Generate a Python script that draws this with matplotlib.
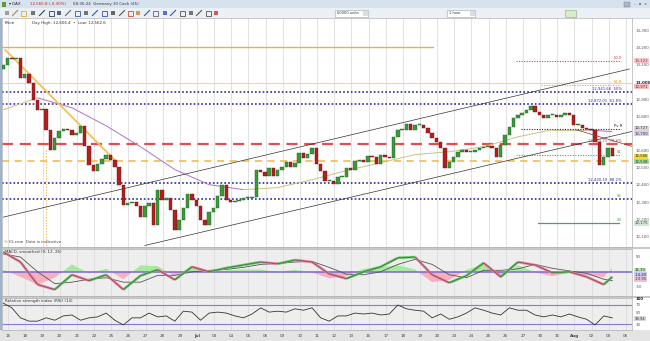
import matplotlib
matplotlib.use("Agg")
import matplotlib.pyplot as plt
import numpy as np
from matplotlib.patches import Rectangle
from matplotlib.collections import LineCollection

plt.rcParams['font.family'] = ['DejaVu Sans']

# ---------------- data ----------------
closes = [13099, 13140, 13134, 13140, 13023, 13047, 12994, 12895, 12837, 12843,
          12721, 12605, 12675, 12715, 12727, 12721, 12692, 12704, 12744, 12628,
          12518, 12483, 12524, 12553, 12576, 12547, 12506, 12401, 12285, 12297,
          12303, 12274, 12215, 12279, 12297, 12169, 12372, 12314, 12326, 12256,
          12140, 12198, 12268, 12349, 12314, 12279, 12198, 12169, 12244, 12268,
          12337, 12401, 12314, 12303, 12308, 12314, 12326, 12326, 12332, 12489,
          12477, 12454, 12500, 12454, 12489, 12506, 12535, 12506, 12529, 12587,
          12558, 12582, 12616, 12524, 12483, 12425, 12425, 12407, 12448, 12448,
          12500, 12489, 12541, 12547, 12535, 12570, 12564, 12524, 12576, 12564,
          12558, 12680, 12721, 12721, 12756, 12721, 12750, 12750, 12733, 12704,
          12675, 12651, 12616, 12500, 12535, 12564, 12593, 12605, 12593, 12593,
          12605, 12616, 12622, 12628, 12616, 12564, 12634, 12692, 12739, 12791,
          12808, 12820, 12837, 12861, 12826, 12808, 12791, 12808, 12808, 12797,
          12808, 12820, 12808, 12750, 12750, 12733, 12727, 12721, 12651, 12518,
          12564, 12616, 12566]

day_labels = ["15", "18", "19", "20", "21", "22", "25", "26", "27", "28", "29",
              "Jul", "03", "04", "05", "06", "09", "10", "11", "12", "13",
              "16", "17", "18", "19", "20", "23", "24", "25", "26", "27",
              "30", "31", "Aug", "02", "03", "06"]

ma_idx = [0, 8, 16, 24, 32, 40, 48, 56, 64, 72, 80, 88, 96, 104, 112, 120, 128, 136, 142]
ma_values = [12837, 12907, 12849, 12744, 12622, 12489, 12401, 12372, 12384, 12430,
             12483, 12529, 12576, 12593, 12622, 12680, 12721, 12721, 12710]

macd_idx = [0, 4, 8, 12, 16, 20, 24, 28, 32, 36, 40, 44, 48, 52, 56, 60, 64, 68,
            72, 76, 80, 84, 88, 92, 96, 100, 104, 108, 112, 116, 120, 124, 128,
            132, 136, 140, 142]
macd_values = [67, 33, -43, -60, -10, -30, -10, -60, -13, 7, -27, 17, 0, 13, 23,
               33, 27, 40, 33, -7, -23, 0, 17, 47, 50, -10, -37, -13, 30, -17,
               33, 23, -3, 0, -17, -43, -17]
signal_values = [60, 50, 0, -40, -35, -25, -20, -35, -35, -12, -12, 0, 5, 8, 15,
                 25, 28, 33, 35, 15, -8, -10, 0, 25, 42, 25, -10, -20, 5, 5, 10,
                 25, 12, 3, -5, -25, -30]

rsi_values = [74, 64, 43, 36, 36, 43, 38, 47, 49, 38, 43, 45, 53, 38, 28, 43, 43,
              53, 45, 47, 36, 57, 55, 38, 53, 55, 53, 47, 43, 51, 64, 55, 57, 55,
              62, 59, 64, 43, 36, 47, 47, 53, 51, 53, 49, 51, 70, 62, 59, 57, 43,
              51, 40, 45, 53, 64, 59, 53, 49, 64, 59, 59, 49, 45, 49, 45, 51, 45,
              40, 28, 47, 43]

price_ticks = [13300, 13200, 13100, 13000, 12900, 12800, 12600, 12500,
               12400, 12300, 12200, 12100]

# ---------------- layout helpers ----------------
W, H = 650, 341
fig = plt.figure(figsize=(W / 100, H / 100), dpi=100)
fig.patch.set_facecolor('white')


def frac(x0, y0, x1, y1):
    return [x0 / W, 1 - y1 / H, (x1 - x0) / W, (y1 - y0) / H]


bg = fig.add_axes([0, 0, 1, 1])
bg.set_xlim(0, W)
bg.set_ylim(H, 0)
bg.axis('off')

# title bar & toolbar
bg.add_patch(Rectangle((0, 0), W, 8, color='#d6e2ee', lw=0))
bg.add_patch(Rectangle((0, 8), W, 10, color='#eaf0f6', lw=0))
bg.plot([0, W], [18, 18], color='#b8c4d0', lw=0.5)
bg.add_patch(Rectangle((2, 1.5), 4, 5, color='#5a9a40', lw=0))
bg.text(9, 4.2, "▾ DAX", fontsize=2.9, va='center', color='#223')
bg.text(30, 4.2, "12,565.8 (-0.30%)", fontsize=2.9, va='center', color='#cc2020')
bg.text(73, 4.2, "08:35:24  Germany 30 Cash (£5)", fontsize=2.9, va='center', color='#334')
bg.add_patch(Rectangle((624, 1.5), 6, 5, facecolor='#aab8c8', edgecolor='#778', lw=0.3))
bg.text(634, 4.2, "–  ▫  ×", fontsize=3.0, va='center', color='#555')

icon_x = [7, 15, 23, 33, 42, 51, 59, 68, 77, 86, 95, 104, 113, 122, 130, 138,
          147, 155, 165, 173, 182, 191, 199, 208, 216]
icon_c = ['#888888', '#c08040', '#e0b020', '#555555', '#304060', '#304060',
          '#304060', '#666666', '#3060a0', '#555555', '#3050c0', '#3050c0',
          '#444444', '#555555', '#c05030', '#d08030', '#3050c0', '#666666',
          '#3050c0', '#3050c0', '#555555', '#555555', '#555555', '#555555', '#d03030']
for k, (ix, ic) in enumerate(zip(icon_x, icon_c)):
    if k % 3 == 1:
        bg.plot([ix - 2.5, ix + 2.5], [15.5, 10.5], color=ic, lw=0.8)
    elif k % 3 == 2:
        bg.add_patch(Rectangle((ix - 2.5, 10.5), 5, 5, facecolor='none', edgecolor=ic, lw=0.6))
    else:
        bg.add_patch(Rectangle((ix - 2, 11), 4, 4, facecolor=ic, edgecolor='none', alpha=0.8))

for (bx0, bx1, lab) in [(335, 368, "60000 units"), (447, 475, "1 hour")]:
    bg.add_patch(Rectangle((bx0, 10), bx1 - bx0, 6.5, facecolor='white', edgecolor='#9aa', lw=0.4))
    bg.add_patch(Rectangle((bx1 - 5, 10.5), 4.5, 5.5, facecolor='#d8dde4', edgecolor='none'))
    bg.text(bx0 + 2, 13.3, lab, fontsize=2.6, va='center', color='#333')
bg.add_patch(Rectangle((565, 9.5), 11, 7.5, facecolor='#d8ecc8', edgecolor='#8a8', lw=0.4))

# separators & bottom strip
bg.add_patch(Rectangle((0, 246.5), W, 2.5, color='#c8c8c8', lw=0))
bg.add_patch(Rectangle((0, 295.5), W, 2.5, color='#c8c8c8', lw=0))
bg.add_patch(Rectangle((0, 330), W, 11, color='#e4e4e4', lw=0))
bg.add_patch(Rectangle((0, 18), 2, 330 - 18, color='#9db4cc', lw=0))
bg.text(636, 298.5, "100", fontsize=2.8, va='center', ha='left', color='#222', fontweight='bold')

# ---------------- panels ----------------
axp = fig.add_axes(frac(2, 18, 632, 246.5))
axm = fig.add_axes(frac(2, 249, 632, 295.5))
axr = fig.add_axes(frac(2, 298, 632, 330))

XMIN, XMAX = -0.3, 146.6
day_pos = [1.17 + 4 * d for d in range(len(day_labels))]

for ax, fc in [(axp, 'white'), (axm, '#eeeeee'), (axr, '#eeeeee')]:
    ax.set_facecolor(fc)
    ax.set_xlim(XMIN, XMAX)
    for s in ax.spines.values():
        s.set_color('#b0b0b0')
        s.set_linewidth(0.5)
    ax.vlines(day_pos, 0, 1, transform=ax.get_xaxis_transform(), color='#d6d6d6', lw=0.5, zorder=0)
    ax.yaxis.tick_right()
    ax.tick_params(axis='y', length=0, labelsize=2.9, pad=2.5, colors='#555555')
    ax.tick_params(axis='x', length=0)

# ----- price panel -----
axp.set_ylim(12041, 13372)
axp.set_xticks([])
axp.set_yticks(price_ticks)
axp.set_yticklabels([f"{p:,}" for p in price_ticks])
for t in axp.get_yticklabels():
    if t.get_text() == "13,000":
        t.set_fontweight('bold')
        t.set_color('#222222')

opens = [closes[0] - 25] + closes[:-1]
for i, (o, c) in enumerate(zip(opens, closes)):
    up = c >= o
    col = '#3a9a3a' if up else '#b02020'
    edge = '#1f5f1f' if up else '#701010'
    axp.bar(i, max(abs(c - o), 4), bottom=min(o, c), width=0.8, color=col,
            edgecolor=edge, linewidth=0.3, zorder=4)

# moving average coloured by direction
ma_pts = np.column_stack([ma_idx, ma_values])
segs = [ma_pts[k:k + 2] for k in range(len(ma_pts) - 1)]
segc = ['#b070c8' if ma_values[k + 1] < ma_values[k] else '#c8c088' for k in range(len(ma_pts) - 1)]
axp.add_collection(LineCollection(segs, colors=segc, linewidths=0.7, zorder=3))

# horizontal levels
axp.plot([XMIN, 100.2], [13204, 13204], color='#f0b040', lw=1.0, zorder=2)
axp.axhline(12994, color='#e8d8b0', lw=0.8, zorder=1)
for lv in [12941.66, 12872.01, 12413, 12320]:
    axp.axhline(lv, color='#2a2a9a', lw=1.2, ls=(0, (1, 1.3)), zorder=2)
axp.axhline(12640, color='#e05050', lw=1.6, ls=(0, (5, 3)), zorder=2)
axp.axhline(12541, color='#f5c060', lw=1.3, ls=(0, (4, 3)), zorder=2)
axp.plot([124.7, 143.6], [12175, 12175], color='#50a050', lw=0.9, zorder=2)
axp.plot([119.6, 144], [13122, 13122], color='#e04040', lw=0.8, ls=(0, (1, 1.3)), zorder=2)
axp.plot([125.4, 144], [12983, 12983], color='#f0a040', lw=0.8, ls=(0, (1, 1.3)), zorder=2)
axp.plot([120.7, 144], [12727, 12727], color='#222222', lw=0.8, ls=(0, (1, 1.3)), zorder=2)
axp.plot([119.6, 144], [12576, 12576], color='#50a050', lw=0.8, ls=(0, (1, 1.3)), zorder=2)

# trend lines
axp.plot([0, 146], [12212, 13075], color='#333333', lw=0.5, zorder=3)
axp.plot([33, 146.9], [12047, 12713], color='#333333', lw=0.5, zorder=3)
axp.plot([133.6, 146.9], [12721, 12622], color='#8a3030', lw=0.5, zorder=3)
axp.plot([0.47, 25.9], [13186, 12547], color='#f0c060', lw=1.3, zorder=3)
axp.plot([10, 10], [12605, 12041], color='#f0b040', lw=0.8, ls=(0, (1, 1.5)), zorder=2)

# level annotations
yt = axp.get_yaxis_transform()
ann = [(13122, "50.0", '#d03030'), (12983, "61.8", '#e09030'),
       (12941.66, "12,941.66  50%", '#2a2a9a'), (12872.01, "12,872.01  61.8%", '#2a2a9a'),
       (12727, "Pv R", '#222222'), (12640, "12,644.71  78.6%", '#b03030'),
       (12576, "S1", '#3a9a3a'), (12413, "12,420.19  88.2%", '#2a2a9a'),
       (12320, "S2", '#3a9a3a'), (12175, "S3", '#3a9a3a')]
for lv, txt, col in ann:
    axp.text(0.984, lv + 6, txt, transform=yt, fontsize=2.7, color=col, ha='right', va='bottom', zorder=6)

boxes = [(13122, "13,122", '#f4c8cc', '#b02020'), (12971, "12,971", '#f2c0c0', '#902020'),
         (12730, "12,727", '#d8d8d8', '#333333'), (12698, "12,700", '#d8cce8', '#443366'),
         (12566, "12,566", '#f0dc40', '#222222'), (12536, "12,538", '#a0d8a0', '#1a4a1a'),
         (12175, "12,175", '#cfe8cf', '#335533')]
for lv, txt, fc, tc in boxes:
    axp.text(1.004, lv, txt, transform=yt, fontsize=2.8, color=tc, ha='left', va='center',
             bbox=dict(boxstyle='square,pad=0.12', fc=fc, ec='none'), zorder=6, clip_on=False)

axp.text(0.004, 0.985, "Price", transform=axp.transAxes, fontsize=3.1, va='top', color='#222')
axp.text(0.048, 0.985, "Day High: 12,606.4  •  Low: 12,562.6", transform=axp.transAxes,
         fontsize=2.9, va='top', color='#333')
axp.text(0.003, 0.012, "© IG.com  Data is indicative", transform=axp.transAxes,
         fontsize=2.9, va='bottom', color='#444')

# ----- MACD panel -----
axm.set_ylim(-80, 77)
axm.set_xticks([])
axm.set_yticks([50, -50])
axm.set_yticklabels(["50", "-50"])
mi = np.array(macd_idx, float)
mv = np.array(macd_values, float)
sv = np.array(signal_values, float)
hist = mv - sv
axm.fill_between(mi, 0, hist, where=hist >= 0, interpolate=True, color='#a8e8a0', lw=0, zorder=1)
axm.fill_between(mi, 0, hist, where=hist < 0, interpolate=True, color='#f4b0c0', lw=0, zorder=1)
axm.axhline(0, color='#7a68c8', lw=1.1, zorder=2)
axm.plot(mi, sv, color='#555555', lw=0.6, zorder=3)
mpts = np.column_stack([mi, mv])
msegs = [mpts[k:k + 2] for k in range(len(mpts) - 1)]
mcols = ['#60c060' if mv[k + 1] >= mv[k] else '#e87890' for k in range(len(mpts) - 1)]
axm.add_collection(LineCollection(msegs, colors=mcols, linewidths=1.8, zorder=4))
axm.plot(mi, mv, color='#444444', lw=0.35, zorder=5)
mt = axm.get_yaxis_transform()
for lv, txt, fc in [(5, "14.39", '#b8e8b0'), (-10, "-14.40", '#c8c8f0'), (-25, "-23.95", '#f0c0d0')]:
    axm.text(1.004, lv, txt, transform=mt, fontsize=2.7, color='#333', ha='left', va='center',
             bbox=dict(boxstyle='square,pad=0.1', fc=fc, ec='none'), clip_on=False)
axm.text(0.004, 0.97, "MACD, smoothed (9, 12, 26)", transform=axm.transAxes, fontsize=2.9,
         va='top', color='#333')

# ----- RSI panel -----
axr.set_ylim(17.4, 84.7)
axr.set_yticks([70, 55, 30])
axr.set_yticklabels(["70", "50", "30"])
axr.axhline(70, color='#8a78d0', lw=0.8)
axr.axhline(30, color='#8a78d0', lw=0.8)
ri = np.arange(0, 143, 2)
axr.plot(ri, rsi_values, color='#333333', lw=0.6)
axr.text(1.004, 41, "39.94", transform=axr.get_yaxis_transform(), fontsize=2.7, color='#333',
         ha='left', va='center', bbox=dict(boxstyle='square,pad=0.1', fc='#d8d8d8', ec='none'),
         clip_on=False)
axr.text(0.004, 0.96, "Relative strength index (RSI) (14)", transform=axr.transAxes,
         fontsize=2.9, va='top', color='#333')
axr.set_xticks(day_pos)
axr.set_xticklabels(day_labels)
axr.tick_params(axis='x', labelsize=3.0, pad=3, colors='#444444')
for t in axr.get_xticklabels():
    if t.get_text() in ("Jul", "Aug"):
        t.set_fontweight('bold')

fig.savefig("out.png", dpi=100, facecolor=fig.get_facecolor())
